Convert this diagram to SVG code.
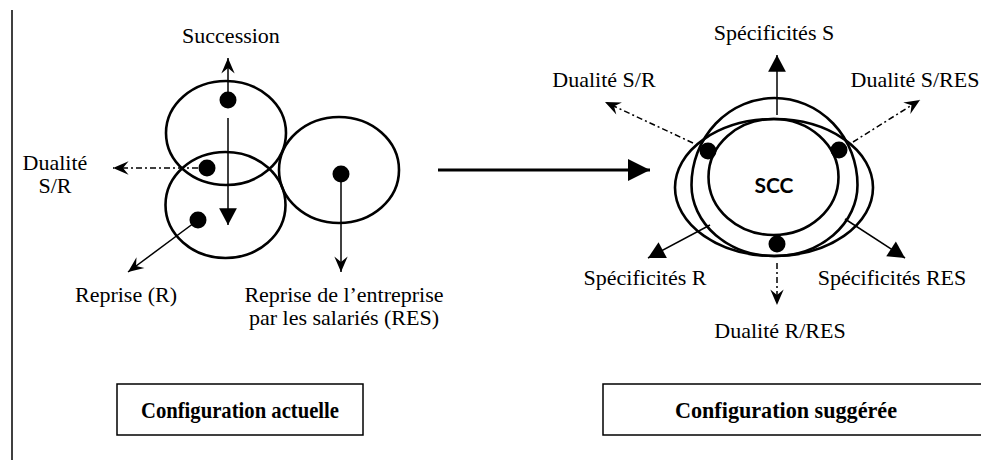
<svg xmlns="http://www.w3.org/2000/svg" width="981" height="460" viewBox="0 0 981 460">
<defs>
<marker id="stealth" markerUnits="userSpaceOnUse" markerWidth="20" markerHeight="20" viewBox="-16 -8 18 16" refX="0" refY="0" orient="auto">
<path d="M0,0 L-14,-6 L-9,0 L-14,6 Z" fill="#000"/>
</marker>
<marker id="tri" markerUnits="userSpaceOnUse" markerWidth="20" markerHeight="20" viewBox="-16 -9 18 18" refX="0" refY="0" orient="auto">
<path d="M0,0 L-15,-8 L-15,8 Z" fill="#000"/>
</marker>
<marker id="bigtri" markerUnits="userSpaceOnUse" markerWidth="26" markerHeight="26" viewBox="-24 -12 26 24" refX="0" refY="0" orient="auto">
<path d="M0,0 L-22,-11 L-22,11 Z" fill="#000"/>
</marker>
</defs>
<style>
.shape{fill:none;stroke:#000;stroke-width:2.6}
.dot{fill:#000}
.arr{fill:none;stroke:#000;stroke-width:1.5}
.dd{stroke-dasharray:6 3 2 3}
.lbl{font-family:"Liberation Serif","Times New Roman",serif;font-size:22px;fill:#000;text-anchor:middle}
.box{fill:#fff;stroke:#000;stroke-width:1.5}
.btxt{font-family:"Liberation Serif","Times New Roman",serif;font-size:24px;font-weight:bold;fill:#000;text-anchor:middle}
.scc{font-family:Lato,"Open Sans",sans-serif;font-size:21px;font-weight:bold;fill:#000;text-anchor:middle}
</style>
<line x1="12" y1="10" x2="12" y2="460" stroke="#000" stroke-width="1.5"/>

<g id="left-config">
<g id="circle-S"><ellipse class="shape" cx="226" cy="133" rx="60" ry="52"/><circle class="dot" cx="228" cy="100" r="8.5"/></g>
<g id="circle-R"><ellipse class="shape" cx="225.5" cy="205" rx="60" ry="53"/><circle class="dot" cx="198" cy="220" r="8.5"/></g>
<g id="dot-SR"><circle class="dot" cx="207" cy="168" r="8.5"/></g>
<g id="circle-RES"><ellipse class="shape" cx="339" cy="170" rx="60" ry="53"/><circle class="dot" cx="341" cy="174" r="8.5"/></g>
<g id="label-succession"><text class="lbl" x="231" y="43">Succession</text></g>
<g id="label-dualite-sr-left"><text class="lbl" x="55" y="170">Dualité</text><text class="lbl" x="55" y="193">S/R</text></g>
<g id="label-reprise"><text class="lbl" x="126" y="302">Reprise (R)</text></g>
<g id="label-res"><text class="lbl" x="344" y="302">Reprise de l’entreprise</text><text class="lbl" x="344" y="325">par les salariés (RES)</text></g>
</g>

<g id="right-config">
<g id="ellipse-T"><path class="shape" d="M691.5,185 A83,87 0 0 1 857.5,185 A83,71 0 0 1 691.5,185 Z"/></g>
<g id="ellipse-W"><ellipse class="shape" cx="774" cy="187.5" rx="99" ry="68.5"/></g>
<g id="ellipse-C"><ellipse class="shape" cx="773.5" cy="177" rx="65" ry="58"/></g>
<g id="dots-right"><circle class="dot" cx="708" cy="151" r="8.5"/><circle class="dot" cx="839" cy="150" r="8.5"/><circle class="dot" cx="777" cy="244" r="8.5"/></g>
<g id="scc"><text class="scc" x="774" y="193">SCC</text></g>
<g id="label-spec-s"><text class="lbl" x="774" y="40">Spécificités S</text></g>
<g id="label-dual-sr"><text class="lbl" x="604" y="87">Dualité S/R</text></g>
<g id="label-dual-sres"><text class="lbl" x="915" y="87">Dualité S/RES</text></g>
<g id="label-spec-r"><text class="lbl" x="645" y="285">Spécificités R</text></g>
<g id="label-spec-res"><text class="lbl" x="892" y="285">Spécificités RES</text></g>
<g id="label-dual-rres"><text class="lbl" x="780" y="338">Dualité R/RES</text></g>
</g>

<g id="connectors">
<line class="arr" x1="228" y1="100" x2="228" y2="58" marker-end="url(#stealth)"/>
<line class="arr" x1="228" y1="118" x2="228" y2="225" marker-end="url(#tri)"/>
<line class="arr dd" x1="198" y1="168" x2="113" y2="168" marker-end="url(#stealth)"/>
<line class="arr" x1="198" y1="220" x2="128" y2="272" marker-end="url(#stealth)"/>
<line class="arr" x1="341" y1="174" x2="341" y2="272" marker-end="url(#stealth)"/>
<line x1="438" y1="170" x2="650" y2="170" stroke="#000" stroke-width="3" marker-end="url(#bigtri)"/>
<line class="arr" x1="777" y1="115" x2="777" y2="55" marker-end="url(#tri)"/>
<line class="arr dd" x1="693" y1="143" x2="605" y2="102" marker-end="url(#stealth)"/>
<line class="arr dd" x1="853" y1="142" x2="920" y2="100" marker-end="url(#stealth)"/>
<line class="arr" x1="710" y1="225" x2="648" y2="258" marker-end="url(#tri)"/>
<line class="arr" x1="845" y1="219" x2="905" y2="258" marker-end="url(#tri)"/>
<line class="arr dd" x1="777" y1="263" x2="777" y2="305" marker-end="url(#stealth)"/>
</g>

<g id="box-actuelle"><rect class="box" x="117" y="384" width="246" height="51"/><text class="btxt" x="240" y="418" textLength="198" lengthAdjust="spacingAndGlyphs">Configuration actuelle</text></g>
<g id="box-suggeree"><rect class="box" x="603" y="384" width="390" height="51"/><text class="btxt" x="786" y="418" textLength="222" lengthAdjust="spacingAndGlyphs">Configuration suggérée</text></g>
</svg>
